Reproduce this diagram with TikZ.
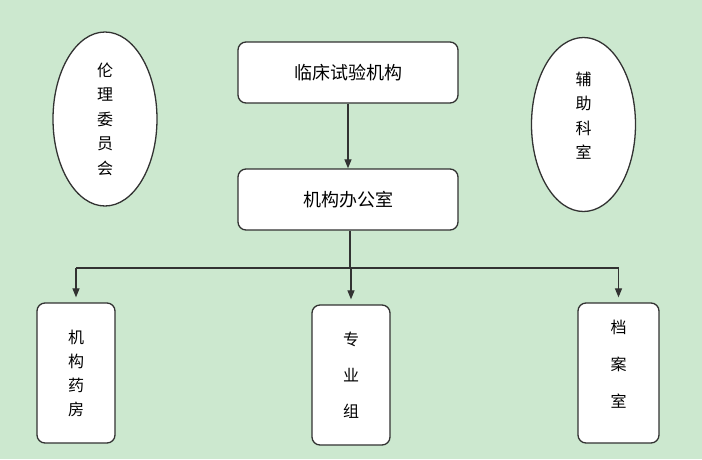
\documentclass[tikz,border=0pt]{standalone}
\usepackage{fontspec}
\newfontfamily\cjk{Noto Sans CJK SC}
\usetikzlibrary{arrows.meta,shapes.geometric}
\definecolor{bggreen}{RGB}{204,232,207}
\definecolor{edge}{RGB}{50,50,50}
\begin{document}
\begin{tikzpicture}[x = 1pt, y = -1pt,
        box/.style = {draw = edge, line width = 1.3pt, fill = white, rounded corners = 8pt},
        wide/.style = {box, minimum width = 220pt, minimum height = 61pt, font = \cjk\fontsize{18}{18}\selectfont},
        tall/.style = {box, minimum width = 78pt, minimum height = 140pt, align = center},
        oval/.style = {draw = edge, line width = 1.3pt, fill = white, ellipse, inner sep = 0pt,
            minimum width = 104pt, minimum height = 174pt, align = center, font = \cjk\fontsize{16}{24.5}\selectfont},
        link/.style = {draw = edge, line width = 1.2pt},
        arr/.style = {link, -{Triangle[length = 9pt, width = 7pt]}}]
        \fill[bggreen] (0, 0) rectangle (702, 459);
        \node[wide] (inst) at (348, 72.5) {临床试验机构};
        \node[wide] (office) at (348, 199.5) {机构办公室};
        \node[oval] (ethics) at (105, 119) {伦\\理\\委\\员\\会};
        \node[oval, text depth = 18pt] (aux) at (583.5, 124.5) {辅\\助\\科\\室};
        \node[tall, font = \cjk\fontsize{16}{24}\selectfont] (pharm) at (76, 373) {机\\构\\药\\房};
        \node[tall, font = \cjk\fontsize{16}{36}\selectfont] (group) at (351, 375) {专\\业\\组};
        \node[tall, minimum width = 81pt, text depth = 18pt, font = \cjk\fontsize{16}{37}\selectfont] (archive) at (618.5, 373) {档\\案\\室};
        \draw[arr] (inst) -- (office);
        \coordinate (split) at (350, 268);
        \draw[link] ([xshift = 2pt]office.south) -- (split);
        \draw[link] (pharm.north |- split) -- (archive.north |- split);
        \foreach \n in {pharm, group, archive}
            {\draw[arr] (\n.north |- split) -- ([yshift = 5pt]\n.north);};
        \end{tikzpicture}
\end{document}
